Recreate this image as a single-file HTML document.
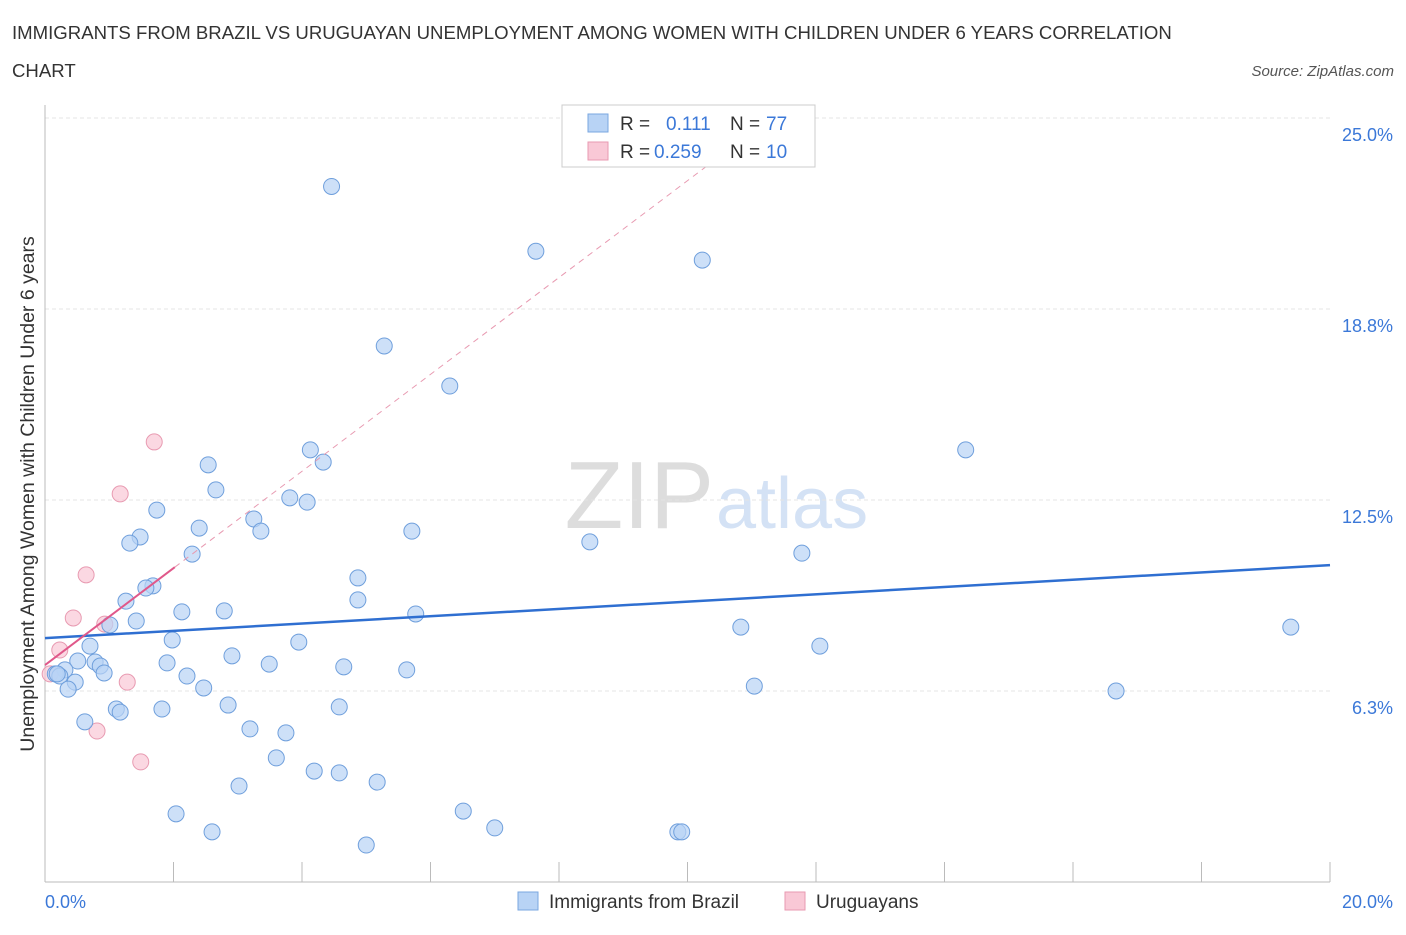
<!DOCTYPE html>
<html><head><meta charset="utf-8"><style>
body{margin:0;background:#fff;font-family:"Liberation Sans",sans-serif;}
svg text{font-family:"Liberation Sans",sans-serif;}
</style></head><body>
<svg id="c" width="1406" height="930">
<text x="12" y="39" font-size="18.6" fill="#333">IMMIGRANTS FROM BRAZIL VS URUGUAYAN UNEMPLOYMENT AMONG WOMEN WITH CHILDREN UNDER 6 YEARS CORRELATION</text>
<text x="12" y="77" font-size="18.6" fill="#333">CHART</text>
<text x="1394" y="76" font-size="15" fill="#555" font-style="italic" text-anchor="end">Source: ZipAtlas.com</text>
<text x="714" y="528" font-size="96" fill="#ddd" text-anchor="end" font-family="Liberation Serif">ZIP</text>
<text x="716" y="528" font-size="72" fill="#d4e2f5">atlas</text>
<text transform="translate(34,494) rotate(-90)" font-size="19.5" fill="#333" text-anchor="middle">Unemployment Among Women with Children Under 6 years</text>
<g id="grid"></g><g id="marks"></g>
<g>
<rect x="562" y="105" width="253" height="62" fill="#fff" stroke="#ccc"/>
<rect x="588" y="114" width="20" height="18" fill="#b8d3f5" stroke="#7aa7e0"/>
<text x="620" y="130" font-size="19" fill="#333">R = </text><text x="666" y="130" font-size="19" fill="#3b78d8">0.111</text>
<text x="730" y="130" font-size="19" fill="#333">N = </text><text x="766" y="130" font-size="19" fill="#3b78d8">77</text>
<rect x="588" y="142" width="20" height="18" fill="#f9c8d6" stroke="#e89ab1"/>
<text x="620" y="158" font-size="19" fill="#333">R = </text><text x="654" y="158" font-size="19" fill="#3b78d8">0.259</text>
<text x="730" y="158" font-size="19" fill="#333">N = </text><text x="766" y="158" font-size="19" fill="#3b78d8">10</text>
</g>
<g>
<rect x="518" y="892" width="20" height="18" fill="#b8d3f5" stroke="#7aa7e0"/>
<text x="549" y="908" font-size="19" fill="#333">Immigrants from Brazil</text>
<rect x="785" y="892" width="20" height="18" fill="#f9c8d6" stroke="#e89ab1"/>
<text x="816" y="908" font-size="19" fill="#333">Uruguayans</text>
</g>
</svg>
<script>
const xTicks=[0,20];
const yTicks=[6.25,12.5,18.75,25];
const yTickLabels=["6.3%","12.5%","18.8%","25.0%"];
const brazilX=[4.46,7.64,10.23,5.28,6.30,14.33,4.13,4.33,2.54,2.66,3.81,4.08,1.74,3.25,2.40,3.36,5.71,1.48,1.32,8.48,2.29,11.78,4.87,1.68,1.57,1.26,4.87,2.13,2.79,5.77,1.42,1.01,10.83,19.39,1.98,3.95,0.70,12.06,2.91,0.51,0.78,1.90,3.49,4.65,5.63,0.86,0.92,0.31,0.16,0.23,0.19,2.21,0.47,0.36,2.47,11.04,16.67,2.85,1.11,1.82,1.17,4.58,0.62,3.19,3.75,3.60,4.19,4.58,3.02,5.17,2.04,6.51,2.60,7.00,9.85,9.91,5.00];
const brazilY=[22.76,20.64,20.35,17.54,16.23,14.14,14.14,13.74,13.65,12.83,12.57,12.43,12.17,11.88,11.58,11.48,11.48,11.29,11.09,11.13,10.73,10.76,9.95,9.69,9.62,9.19,9.23,8.84,8.87,8.77,8.54,8.41,8.34,8.34,7.92,7.85,7.72,7.72,7.40,7.23,7.20,7.17,7.13,7.04,6.94,7.07,6.84,6.94,6.81,6.74,6.81,6.74,6.54,6.31,6.35,6.41,6.25,5.79,5.66,5.66,5.56,5.73,5.24,5.01,4.88,4.06,3.63,3.57,3.14,3.27,2.23,2.32,1.64,1.77,1.64,1.64,1.21];
const uruX=[1.70,1.17,0.64,0.44,0.93,0.23,1.28,0.81,1.49,0.08];
const uruY=[14.4,12.7,10.05,8.64,8.44,7.59,6.54,4.94,3.93,6.81];
const brazilTrend=[7.98,10.37];
const uruTrend=[7.1,1.585];
const NS="http://www.w3.org/2000/svg";
const X=v=>45+v*64.25, Y=v=>882-v*30.56;
function mk(tag,attrs,parent){const e=document.createElementNS(NS,tag);for(const k in attrs)e.setAttribute(k,attrs[k]);parent.appendChild(e);return e;}
const g=document.getElementById('grid'), m=document.getElementById('marks');
yTicks.forEach((t,i)=>{
 const l=mk('line',{x1:45,x2:1330,y1:Y(t),y2:Y(t),stroke:'#e4e4e4','stroke-dasharray':'4,3'},g);
 
 
 const tx=mk('text',{x:1393,y:Y(t)+23,'font-size':18,fill:'#3b78d8','text-anchor':'end'},g);
 tx.textContent=yTickLabels[i];
 
 
});
const ax=mk('line',{x1:45,x2:1330,y1:882,y2:882,stroke:'#bbb'},g);


const ay=mk('line',{x1:45,x2:45,y1:105,y2:882,stroke:'#bbb'},g);


for(let i=1;i<=10;i++){const t=mk('line',{x1:X(i*2),x2:X(i*2),y1:862,y2:882,stroke:'#bbb'},g);
 
 }
xTicks.forEach((t,i)=>{const tx=mk('text',{x:i?1393:45,y:908,'font-size':18,fill:'#3b78d8','text-anchor':i?'end':'start'},g);
 tx.textContent=t.toFixed(1)+'%';
 
 });
uruX.forEach((x,i)=>{const c=mk('circle',{cx:X(x),cy:Y(uruY[i]),r:8,fill:'#f9c8d6','fill-opacity':0.7,stroke:'#e89ab1'},m);
 
 });
brazilX.forEach((x,i)=>{const c=mk('circle',{cx:X(x),cy:Y(brazilY[i]),r:8,fill:'#b8d3f5','fill-opacity':0.7,stroke:'#6f9fdc'},m);
 
 });
const bl=mk('line',{x1:X(0),y1:Y(brazilTrend[0]),x2:X(20),y2:Y(brazilTrend[1]),stroke:'#2f6fd1','stroke-width':2.5},m);


const ud=mk('line',{x1:X(2.02),y1:Y(uruTrend[0]+uruTrend[1]*2.02),x2:X(10.5),y2:Y(uruTrend[0]+uruTrend[1]*10.5),stroke:'#e89ab1','stroke-dasharray':'6,5'},m);


const ul=mk('line',{x1:X(0),y1:Y(uruTrend[0]),x2:X(2.02),y2:Y(uruTrend[0]+uruTrend[1]*2.02),stroke:'#e0588a','stroke-width':2},m);


</script>
</body></html>
